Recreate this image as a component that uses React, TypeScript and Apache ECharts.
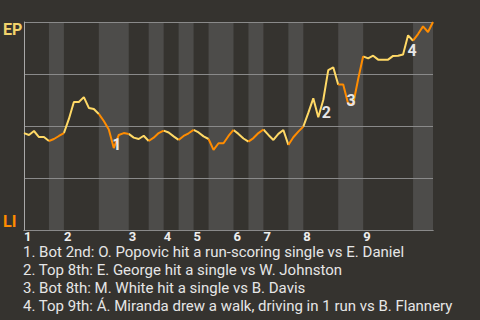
import React, { useEffect, useRef } from "react";
import * as echarts from "echarts";

// Win probability for EP (0 = LI wins, 100 = EP wins) after each plate appearance
const winProb: number[] = [
  46.6, 45.7, 47.6, 44.7, 44.7, 42.8, 43.75, 45.2, 46.6, 53.4, 61.5, 61.5, 63.9, 58.7, 58.2, 55.8,
  52.4, 48.3, 39.4, 45.7, 46.6, 46.2, 44.4, 43.75, 45.3, 42.8, 44.4, 46.6, 47.8, 46.9, 45, 43.3,
  45.2, 46.5, 48.1, 46.9, 45, 43.75, 38.5, 41.7, 41.7, 45.2, 48.1, 46.2, 44, 42.5, 44.2, 46.6,
  48.3, 45.7, 43.3, 46.2, 48.1, 40.9, 44.6, 47.3, 49.7, 56.3, 63.3, 54.2, 62.5, 76.9, 78.2, 69.9,
  69.9, 60.6, 60.6, 72.6, 83.5, 82.5, 83.8, 81.9, 81.9, 81.9, 83.7, 83.8, 84.4, 93.6, 91, 94.2,
  97.9, 95.2, 100,
];

// Half-inning boundaries (in plate appearances): top1, bot1, top2, ...
const halfInningBounds: number[] = [0, 5, 8, 15, 21, 25, 28, 31, 34, 37, 42, 45, 48, 53, 56, 63, 68, 78, 82];

// Key events (plate appearance index) and their descriptions
const eventIndex: number[] = [18, 59, 65, 77];
const eventNotes: string[] = [
  "1. Bot 2nd: O. Popovic hit a run-scoring single vs E. Daniel",
  "2. Top 8th: E. George hit a single vs W. Johnston",
  "3. Bot 8th: M. White hit a single vs B. Davis",
  "4. Top 9th: Á. Miranda drew a walk, driving in 1 run vs B. Flannery",
];

const topTeam = "EP";
const bottomTeam = "LI";

const YELLOW = "#ffd966";
const ORANGE = "#ff8c00";

function halfSegments(parity: number): any[] {
  const out: any[] = [];
  for (let i = parity; i + 1 < halfInningBounds.length; i += 2) {
    for (let k = halfInningBounds[i]; k <= halfInningBounds[i + 1]; k++) {
      out.push([k, winProb[k]]);
    }
    out.push([halfInningBounds[i + 1] + 0.5, null]);
  }
  return out;
}

export default function App() {
  const ref = useRef<HTMLDivElement>(null);

  useEffect(() => {
    if (!ref.current) return;
    const chart = echarts.init(ref.current, undefined, { renderer: "svg" });

    const maxPA = halfInningBounds[halfInningBounds.length - 1];
    const inningStarts = halfInningBounds.filter((_, i) => i % 2 === 0 && i < halfInningBounds.length - 1);
    const bands: any[] = [];
    for (let i = 1; i + 1 < halfInningBounds.length; i += 2) {
      bands.push([{ xAxis: halfInningBounds[i] }, { xAxis: halfInningBounds[i + 1] }]);
    }
    const labelOffsets = [
      [3, -3.5],
      [8, -5],
      [3, -3.5],
      [4, 15],
    ];

    chart.setOption({
      animation: false,
      backgroundColor: "#35332f",
      textStyle: { fontFamily: "Roboto" },
      grid: { left: 22, right: 47, top: 22, bottom: 90 },
      xAxis: {
        type: "value",
        min: 0,
        max: maxPA,
        axisLine: { show: true, lineStyle: { color: "#c4c4c4", width: 1 } },
        axisTick: { show: false },
        splitLine: { show: false },
        axisLabel: {
          customValues: inningStarts,
          formatter: (v: number) => String(inningStarts.indexOf(v) + 1),
          align: "left",
          margin: 0,
          color: "#eeeeee",
          fontSize: 13,
          fontWeight: "bold",
          fontFamily: "Roboto",
        },
      },
      yAxis: [
        {
          type: "value",
          min: 0,
          max: 100,
          interval: 25,
          z: 1.5,
          axisLine: { show: true, lineStyle: { color: "#a8a8a8", width: 1 } },
          axisTick: { show: false },
          splitLine: { show: true, lineStyle: { color: "#8a8a8a", width: 1 } },
          axisLabel: {
            formatter: (v: number) => (v === 100 ? topTeam : ""),
            verticalAlign: "top",
            align: "left",
            margin: 21,
            padding: [-1, 0, 0, 0],
            color: "#f2d36b",
            fontSize: 16,
            fontWeight: "bold",
            fontFamily: "Roboto",
          },
        },
        {
          type: "value",
          min: 0,
          max: 100,
          interval: 25,
          position: "left",
          axisLine: { show: false },
          axisTick: { show: false },
          splitLine: { show: false },
          axisLabel: {
            formatter: (v: number) => (v === 0 ? bottomTeam : ""),
            verticalAlign: "bottom",
            align: "left",
            margin: 21,
            padding: [0, 0, 1, 0],
            color: "#ff8c00",
            fontSize: 16,
            fontWeight: "bold",
            fontFamily: "Roboto",
          },
        },
      ],
      series: [
        {
          type: "line",
          name: topTeam,
          data: halfSegments(0),
          showSymbol: false,
          symbol: "none",
          connectNulls: false,
          lineStyle: { width: 2, color: YELLOW },
          itemStyle: { color: YELLOW },
          z: 2,
          markArea: {
            silent: true,
            itemStyle: { color: "#4d4c4a" },
            data: bands,
          },
        },
        {
          type: "line",
          name: bottomTeam,
          data: halfSegments(1),
          showSymbol: false,
          symbol: "none",
          connectNulls: false,
          lineStyle: { width: 2, color: ORANGE },
          itemStyle: { color: ORANGE },
          z: 2,
          markPoint: {
            silent: true,
            symbol: "circle",
            symbolSize: 0,
            label: {
              show: true,
              position: "inside",
              formatter: "{b}",
              color: "#e6e6e6",
              fontSize: 16,
              fontWeight: "bold",
              fontFamily: "Roboto",
            },
            data: eventIndex.map((k, i) => ({
              name: String(i + 1),
              coord: [k, winProb[k]],
              label: { offset: labelOffsets[i] },
            })),
          },
        },
      ],
      graphic: eventNotes.map((t, i) => ({
        type: "text",
        left: 23,
        top: 244.5 + 18 * i,
        style: {
          text: t,
          fill: "#e6e6e6",
          fontSize: 15,
          fontFamily: "Roboto",
          lineHeight: 15,
        },
      })),
    });

    return () => chart.dispose();
  }, []);

  return (
    <div
      ref={ref}
      style={{ position: "fixed", left: 0, top: 0, width: 480, height: 320 }}
    />
  );
}
